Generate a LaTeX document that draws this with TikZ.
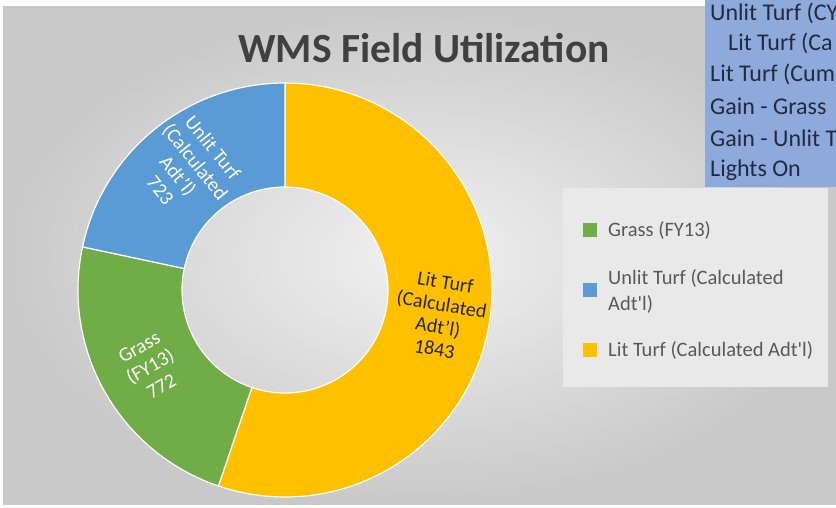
\documentclass[tikz,border=0pt]{standalone}
\usepackage{fontspec}
\setmainfont{Carlito}
\usetikzlibrary{calc}
\definecolor{cyellow}{HTML}{FFC000}
\definecolor{cgreen}{HTML}{70AD47}
\definecolor{cblue}{HTML}{5B9BD5}
\definecolor{boxblue}{HTML}{8EAADB}
\definecolor{boxtext}{HTML}{1F2B45}
\definecolor{titlec}{HTML}{404040}
\definecolor{legtext}{HTML}{595959}
\definecolor{bgin}{HTML}{F1F1F1}
\definecolor{bgout}{HTML}{C9C9C9}
\definecolor{legbg}{HTML}{E9E9E9}
\begin{document}
\begin{tikzpicture}[x=1pt,y=1pt,
  seg/.style={draw=white, line width=1.2pt},
  dlabel/.style={align=center, font=\fontsize{20}{22.5}\selectfont, inner sep=0pt},
  legsq/.style={minimum size=14pt, inner sep=0pt},
  legtxt/.style={anchor=west, align=left, text=legtext, font=\fontsize{20.5}{26}\selectfont, inner sep=0pt},
  boxtxt/.style={anchor=west, text=boxtext, font=\fontsize{24}{28}\selectfont, inner sep=0pt}]
\useasboundingbox (0,0) rectangle (836,508);
\fill[white] (0,0) rectangle (836,508);
\shade[inner color=bgin, outer color=bgout] (3,3) rectangle (836,501);
\draw[gray!45, line width=0.8pt] (3,501) -- (836,501);
% donut
\coordinate (C) at (285,218);
\fill[cyellow, seg] ($(C)+(90:207pt)$) arc[start angle=90, end angle=-108.766, radius=207pt]
  -- ($(C)+(-108.766:103pt)$) arc[start angle=-108.766, end angle=90, radius=103pt] -- cycle;
\fill[cgreen, seg] ($(C)+(-108.766:207pt)$) arc[start angle=-108.766, end angle=-192.025, radius=207pt]
  -- ($(C)+(-192.025:103pt)$) arc[start angle=-192.025, end angle=-108.766, radius=103pt] -- cycle;
\fill[cblue, seg] ($(C)+(-192.025:207pt)$) arc[start angle=-192.025, end angle=-270, radius=207pt]
  -- ($(C)+(-270:103pt)$) arc[start angle=-270, end angle=-192.025, radius=103pt] -- cycle;
% donut labels
\node[dlabel, text=white, rotate=-51] (lblU) at ($(C)+(129:156pt)$) {Unlit Turf\\(Calculated\\Adt'l)\\723};
\node[dlabel, text=white, rotate=29.6] (lblG) at ($(C)+(-150.4:155pt)$) {Grass\\(FY13)\\772};
\node[dlabel, text=black!85, rotate=-9.4] (lblL) at ($(C)+(-9.4:157pt)$) {Lit Turf\\(Calculated\\Adt'l)\\1843};
% title
\node[font=\bfseries\fontsize{41.5}{48}\selectfont, text=titlec, inner sep=0pt] (title) at (424,460) {WMS Field Utilization};
% legend
\fill[legbg] (563,121) rectangle (828,320);
\node[legsq, fill=cgreen] (sqG) at (590,278) {};
\node[legsq, fill=cblue] (sqU) at (590,218) {};
\node[legsq, fill=cyellow] (sqL) at (590,158) {};
\node[legtxt] (txG) at (608,278) {Grass (FY13)};
\node[legtxt] (txU) at (608,217) {Unlit Turf (Calculated\\Adt\textquotesingle l)};
\node[legtxt] (txL) at (608,158) {Lit Turf (Calculated Adt\textquotesingle l)};
% top-right box
\fill[boxblue] (705,321) rectangle (836,508);
\begin{scope}
\clip (705,321) rectangle (836,508);
\node[boxtxt] (b1) at (710,495) {Unlit Turf (CY};
\node[boxtxt] (b2) at (728,465) {Lit Turf (Ca};
\node[boxtxt] (b3) at (710,434) {Lit Turf (Cum};
\node[boxtxt] (b4) at (710,402) {Gain - Grass};
\node[boxtxt] (b5) at (710,370) {Gain - Unlit T};
\node[boxtxt] (b6) at (710,338) {Lights On};
\end{scope}
\end{tikzpicture}
\end{document}
